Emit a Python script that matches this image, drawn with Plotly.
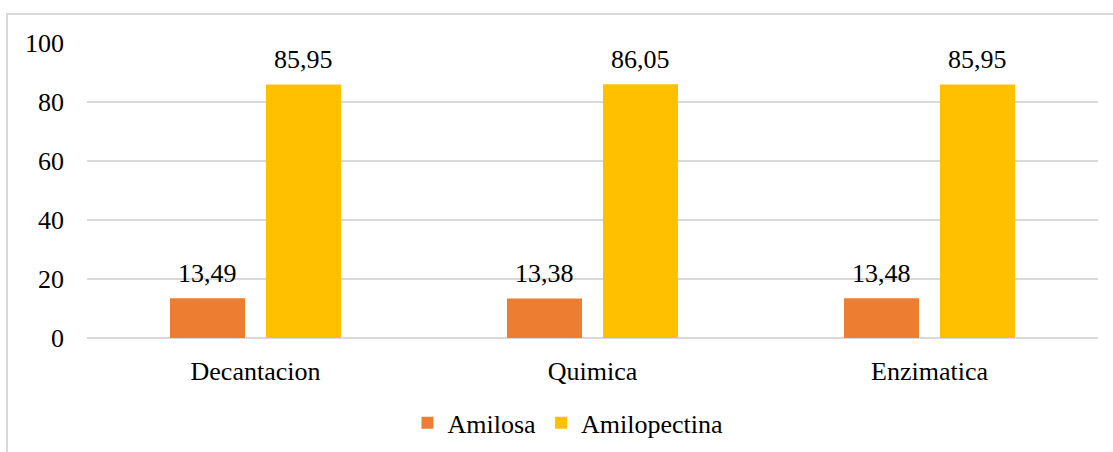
import plotly.graph_objects as go

# Starch fractions by extraction method (%)
categories = ["Decantacion", "Quimica", "Enzimatica"]
amilosa = [13.49, 13.38, 13.48]
amilopectina = [85.95, 86.05, 85.95]
y_ticks = [0, 20, 40, 60, 80, 100]

FONT = "'Times New Roman', 'Liberation Serif', Tinos, serif"
ORANGE = "#ED7D31"
YELLOW = "#FFC000"
GRID = "#D9D9D9"

BAR_W = 0.2226
SHIFT = 0.1424

xs = list(range(len(categories)))

def fmt(v):
    return f"{v:.2f}".replace(".", ",")

fig = go.Figure()
fig.add_trace(go.Bar(
    x=[i - SHIFT for i in xs], y=amilosa, width=BAR_W, name="Amilosa",
    marker=dict(color=ORANGE, line=dict(width=0)),
))
fig.add_trace(go.Bar(
    x=[i + SHIFT for i in xs], y=amilopectina, width=BAR_W, name="Amilopectina",
    marker=dict(color=YELLOW, line=dict(width=0)),
))

annotations = []
for i in xs:
    for off, val in ((-SHIFT, amilosa[i]), (SHIFT, amilopectina[i])):
        annotations.append(dict(
            x=i + off, y=val, xref="x", yref="y", text=fmt(val),
            showarrow=False, yanchor="middle", yshift=25,
            font=dict(family=FONT, size=26, color="#000000"),
        ))

fig.update_layout(
    width=1113, height=452,
    margin=dict(l=87, r=15, t=43, b=114, autoexpand=False),
    paper_bgcolor="white", plot_bgcolor="white",
    barmode="overlay",
    font=dict(family=FONT, size=26, color="#000000"),
    showlegend=True,
    legend=dict(
        orientation="h", x=0.317, xanchor="left", y=-0.288, yanchor="middle",
        font=dict(family=FONT, size=26, color="#000000"),
        bgcolor="rgba(0,0,0,0)", traceorder="normal",
    ),
    xaxis=dict(
        range=[-0.5, 2.5], tickvals=xs, ticktext=categories,
        showgrid=False, zeroline=False, showline=False, ticks="",
        ticklabelstandoff=15,
    ),
    yaxis=dict(
        range=[0, 100], tickvals=y_ticks, showgrid=True, gridcolor=GRID,
        gridwidth=1.5, zeroline=True, zerolinecolor=GRID, zerolinewidth=1.5,
        showline=False, ticks="", ticklabelstandoff=22,
    ),
    annotations=annotations,
    shapes=[dict(
        type="rect", xref="paper", yref="paper",
        x0=-0.0791, x1=1.2, y0=-0.6, y1=1.0983,
        line=dict(color=GRID, width=2), fillcolor="rgba(0,0,0,0)", layer="below",
    )],
)

fig.write_html("out.html")
